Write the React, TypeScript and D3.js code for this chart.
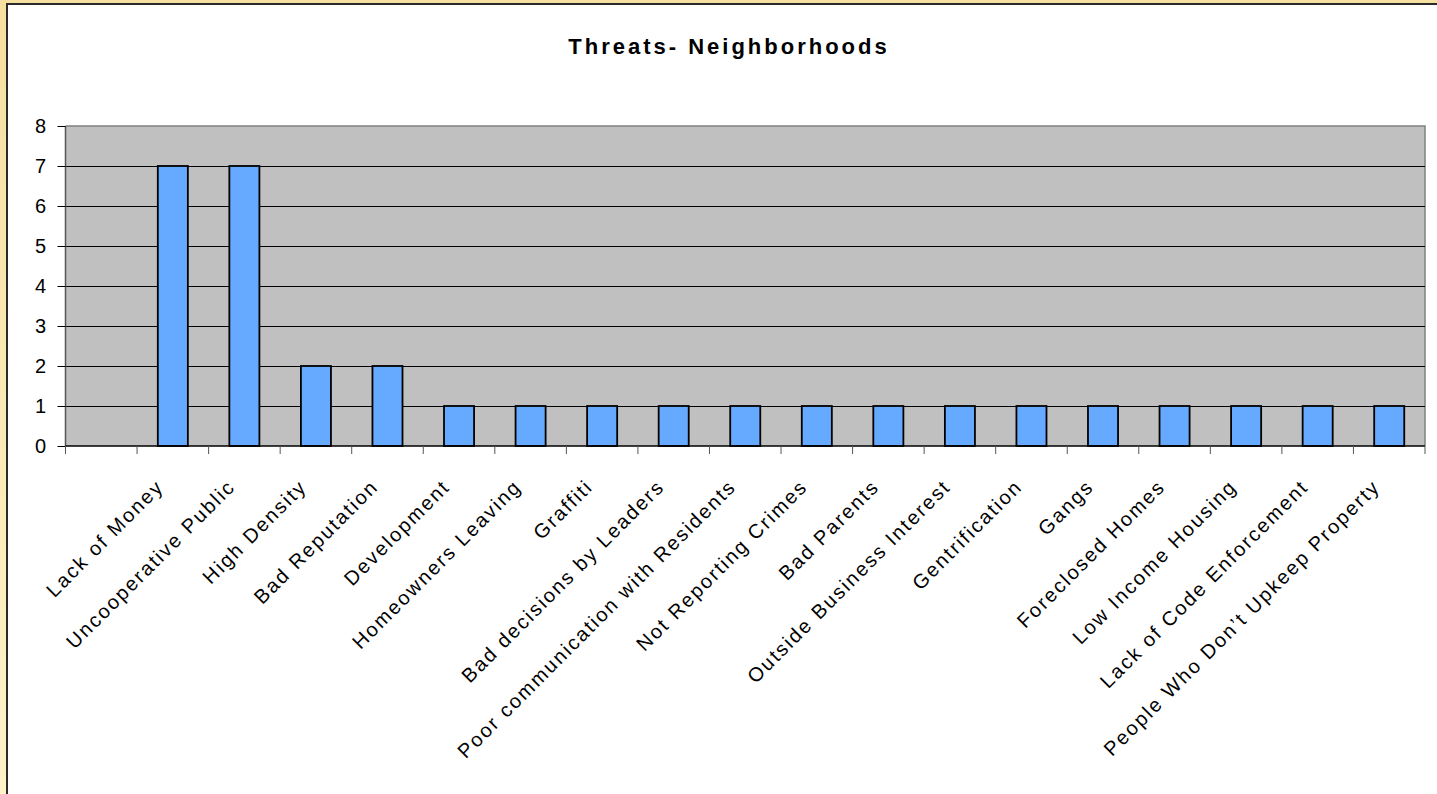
import React from "react";
import * as d3 from "d3";

const title = "Threats- Neighborhoods";
const categories: string[] = [
  "",
  "Lack of Money",
  "Uncooperative Public",
  "High Density",
  "Bad Reputation",
  "Development",
  "Homeowners Leaving",
  "Graffiti",
  "Bad decisions by Leaders",
  "Poor communication with Residents",
  "Not Reporting Crimes",
  "Bad Parents",
  "Outside Business Interest",
  "Gentrification",
  "Gangs",
  "Foreclosed Homes",
  "Low Income Housing",
  "Lack of Code Enforcement",
  "People Who Don\u2019t Upkeep Property",
];
const values: number[] = [0, 7, 7, 2, 2, 1, 1, 1, 1, 1, 1, 1, 1, 1, 1, 1, 1, 1, 1];
const yTicks: number[] = [0, 1, 2, 3, 4, 5, 6, 7, 8];

const W = 1437;
const H = 794;
const plot = { left: 65.5, right: 1425, top: 126, bottom: 446 };
const font = "Arial, 'Liberation Sans', sans-serif";

export default function App() {
  const x = d3
    .scaleBand<number>()
    .domain(d3.range(categories.length))
    .range([plot.left, plot.right])
    .paddingInner(0)
    .paddingOuter(0);
  const y = d3.scaleLinear().domain([0, 8]).range([plot.bottom, plot.top]);
  const bw = x.bandwidth() * 0.42;
  const boundaries = d3.range(categories.length + 1).map((i) => plot.left + i * x.step());

  return (
    <div style={{ position: "fixed", left: 0, top: 0, width: W, height: H }}>
      <svg width={W} height={H} style={{ display: "block" }}>
        <defs>
          <linearGradient id="bg" x1="0" y1="0" x2="0" y2="1">
            <stop offset="0" stopColor="#F6E0A0" />
            <stop offset="1" stopColor="#FDF2C8" />
          </linearGradient>
        </defs>
        <rect x={0} y={0} width={W} height={H} fill="url(#bg)" />
        <rect x={7} y={4} width={W} height={H} fill="#FFFFFF" stroke="#2a2a2a" strokeWidth={2} />
        <text
          x={729}
          y={54}
          textAnchor="middle"
          fontFamily={font}
          fontWeight="bold"
          fontSize={22}
          letterSpacing={3}
          fill="#000"
        >
          {title}
        </text>
        <rect
          x={plot.left}
          y={plot.top}
          width={plot.right - plot.left}
          height={plot.bottom - plot.top}
          fill="#C0C0C0"
        />
        <path
          d={`M${plot.left},${plot.top}H${plot.right}V${plot.bottom}`}
          fill="none"
          stroke="#808080"
          strokeWidth={1.5}
        />
        {yTicks
          .filter((t) => t > 0 && t < 8)
          .map((t) => (
            <line
              key={"g" + t}
              x1={plot.left}
              x2={plot.right}
              y1={Math.round(y(t)) + 0.5}
              y2={Math.round(y(t)) + 0.5}
              stroke="#000"
              strokeWidth={1}
            />
          ))}
        <line x1={plot.left} x2={plot.left} y1={plot.top} y2={plot.bottom} stroke="#555" strokeWidth={1.5} />
        {yTicks.map((t) => (
          <g key={"yt" + t}>
            <line
              x1={plot.left - 8}
              x2={plot.left}
              y1={Math.round(y(t)) + 0.5}
              y2={Math.round(y(t)) + 0.5}
              stroke="#000"
            />
            <text
              x={46}
              y={y(t)}
              dy="0.36em"
              textAnchor="end"
              fontFamily={font}
              fontSize={20}
              fill="#000"
            >
              {t}
            </text>
          </g>
        ))}
        {values.map((v, i) =>
          v > 0 ? (
            <rect
              key={"b" + i}
              x={(x(i) as number) + (x.bandwidth() - bw) / 2}
              y={y(v)}
              width={bw}
              height={y(0) - y(v)}
              fill="#66AAFF"
              stroke="#000"
              strokeWidth={1.8}
            />
          ) : null
        )}
        <line x1={plot.left} x2={plot.right} y1={plot.bottom} y2={plot.bottom} stroke="#000" strokeWidth={1.5} />
        {boundaries.map((bx, i) => (
          <line key={"xt" + i} x1={bx} x2={bx} y1={plot.bottom} y2={plot.bottom + 8} stroke="#555" strokeWidth={1} />
        ))}
        {categories.map((c, i) => {
          const cx = (x(i) as number) + x.bandwidth() / 2;
          return (
            <text
              key={"xl" + i}
              transform={`translate(${cx - 18},${plot.bottom + 32}) rotate(-45)`}
              textAnchor="end"
              dy="0.71em"
              fontFamily={font}
              fontSize={20}
              letterSpacing={2}
              fill="#000"
            >
              {c}
            </text>
          );
        })}
      </svg>
    </div>
  );
}
